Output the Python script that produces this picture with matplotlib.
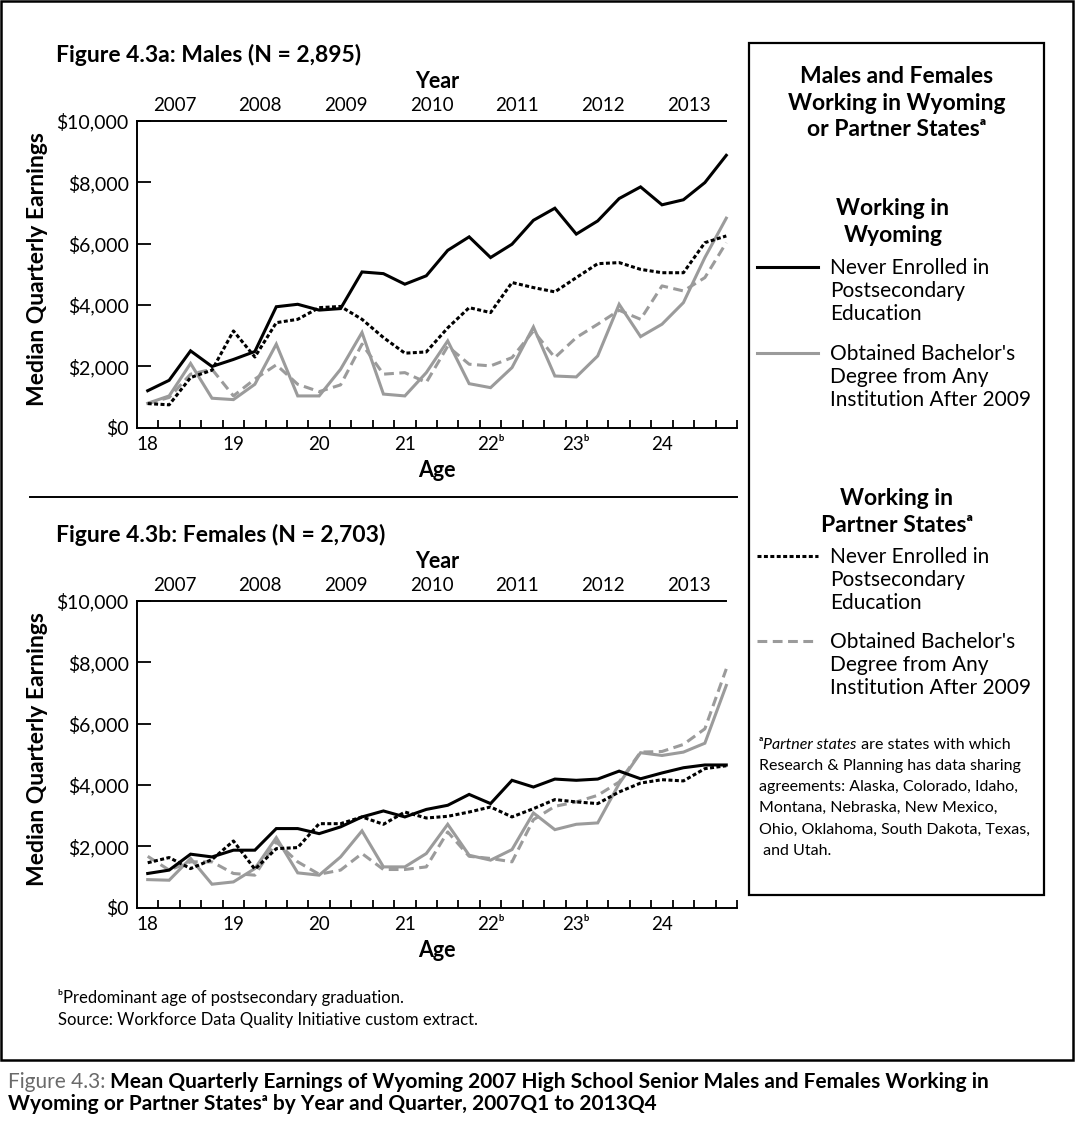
import matplotlib
matplotlib.use('Agg')
import matplotlib.pyplot as plt
from matplotlib.lines import Line2D
from matplotlib.patches import Rectangle
from matplotlib.text import Annotation

plt.rcParams['font.family'] = ['Lato', 'DejaVu Sans']

# data: median quarterly earnings, 2007Q1 .. 2013Q4 (28 quarters)
years = ['2007', '2008', '2009', '2010', '2011', '2012', '2013']
ages = ['18', '19', '20', '21', '22ᵇ', '23ᵇ', '24']
yticks = [0, 2000, 4000, 6000, 8000, 10000]
ytick_labels = ['\\$0', '\\$2,000', '\\$4,000', '\\$6,000', '\\$8,000', '\\$10,000']

male_wy_never = [1200, 1540, 2500, 1990, 2220, 2480, 3940, 4020, 3830, 3880, 5075, 5020, 4675, 4950,
                 5780, 6220, 5545, 5980, 6760, 7155, 6310, 6740, 7470, 7850, 7265, 7430, 7990, 8880]
male_wy_ba = [790, 1030, 2090, 955, 910, 1410, 2720, 1030, 1030, 1900, 3100, 1090, 1030, 1790,
              2825, 1430, 1300, 1955, 3280, 1680, 1650, 2335, 4020, 2965, 3370, 4075, 5545, 6830]
male_ps_never = [780, 740, 1630, 1870, 3150, 2300, 3420, 3530, 3910, 3950, 3530, 2935, 2425, 2465,
                 3250, 3910, 3750, 4730, 4565, 4425, 4890, 5345, 5380, 5160, 5050, 5050, 6030, 6250]
male_ps_ba = [780, 980, 1740, 1900, 1030, 1580, 2045, 1410, 1170, 1390, 2720, 1740, 1790, 1470,
              2650, 2065, 2010, 2280, 3150, 2280, 2935, 3370, 3825, 3530, 4620, 4455, 4890, 6030]

female_wy_never = [1110, 1220, 1740, 1650, 1870, 1870, 2575, 2575, 2410, 2630, 2955, 3150, 2955, 3200,
                   3335, 3690, 3390, 4150, 3930, 4190, 4150, 4190, 4450, 4200, 4390, 4560, 4650, 4650]
female_wy_ba = [910, 890, 1600, 760, 835, 1270, 2280, 1130, 1055, 1650, 2500, 1325, 1325, 1760,
                2715, 1705, 1545, 1890, 3085, 2540, 2715, 2760, 4040, 5050, 4960, 5070, 5360, 7245]
female_ps_never = [1460, 1630, 1270, 1565, 2170, 1250, 1920, 1955, 2735, 2735, 2955, 2715, 3115, 2920,
                   2975, 3115, 3280, 2955, 3225, 3520, 3445, 3390, 3770, 4060, 4170, 4130, 4530, 4625]
female_ps_ba = [1670, 1220, 1490, 1490, 1110, 1055, 2140, 1490, 1085, 1220, 1760, 1240, 1240, 1325,
                2465, 1670, 1600, 1490, 2865, 3300, 3445, 3660, 4095, 5070, 5090, 5320, 5830, 7785]

W, H = 1075, 1123
def fx(px):
    return px / W
def fy(py):
    return 1 - py / H

GRAY = '#9b9b9b'
styles = {
    'wy_never': dict(color='black', lw=2.2, ls='-'),
    'wy_ba': dict(color=GRAY, lw=2.2, ls='-'),
    'ps_never': dict(color='black', lw=2.2, ls=(0, (1.3, 0.8))),
    'ps_ba': dict(color=GRAY, lw=2.2, ls=(0, (3.2, 1.8))),
}
BOLD = 16.5

fig = plt.figure(figsize=(W / 100, H / 100), dpi=100)

def after(prev, s, **kw):
    # text placed right after another text artist
    a = Annotation(s, xy=(1, 0), xycoords=prev, ha='left', va='bottom', annotation_clip=False, **kw)
    fig.add_artist(a)
    return a

def panel(top_px, title, series):
    bot_px = top_px + 306.5
    ax = fig.add_axes([fx(137), fy(bot_px), fx(737) - fx(137), fy(top_px) - fy(bot_px)])
    x = [i + 0.5 for i in range(len(series['wy_never']))]
    for key in ['ps_ba', 'wy_ba', 'ps_never', 'wy_never']:
        ax.plot(x, series[key], solid_joinstyle='miter', **styles[key])
    ax.set_xlim(0, 28)
    ax.set_ylim(0, 10000)
    ax.set_yticks(yticks, labels=ytick_labels)
    ax.tick_params(axis='y', direction='in', length=10, width=1.3, labelsize=14, pad=6)
    ax.set_xticks(range(1, 29), labels=[''] * 28)
    ax.tick_params(axis='x', which='major', direction='in', length=6, width=1.3)
    ax.set_xticks([0.5 + 4 * k for k in range(len(ages))], labels=ages, minor=True)
    ax.tick_params(axis='x', which='minor', length=0, labelsize=13.5, pad=6)
    ax.spines['right'].set_visible(False)
    ax.spines['top'].set_bounds(0, 27.5)
    for s in ['left', 'bottom', 'top']:
        ax.spines[s].set_linewidth(1.4)
    tr = ax.get_xaxis_transform()
    for k, yr in enumerate(years):
        ax.text(1.75 + 4 * k, 1.05, yr, transform=tr, ha='center', va='center', fontsize=13.5)
    ax.text(14, 1.128, 'Year', transform=tr, ha='center', va='center', fontsize=15.5, fontweight='bold')
    ax.text(14, -0.14, 'Age', transform=tr, ha='center', va='center', fontsize=15.5, fontweight='bold')
    fig.text(fx(56), fy(top_px - 66), title, ha='left', va='center', fontsize=BOLD, fontweight='bold')
    fig.text(fx(38), fy(top_px + 148), 'Median Quarterly Earnings', rotation=90,
             ha='center', va='center', fontsize=BOLD, fontweight='bold')
    return ax

panel(121, 'Figure 4.3a: Males (N = 2,895)',
      dict(wy_never=male_wy_never, wy_ba=male_wy_ba, ps_never=male_ps_never, ps_ba=male_ps_ba))
panel(601, 'Figure 4.3b: Females (N = 2,703)',
      dict(wy_never=female_wy_never, wy_ba=female_wy_ba, ps_never=female_ps_never, ps_ba=female_ps_ba))

# frame, divider, legend box
fig.add_artist(Rectangle((fx(1), fy(1060)), fx(1073) - fx(1), fy(1) - fy(1060),
                         transform=fig.transFigure, fill=False, lw=1.8, color='black'))
fig.add_artist(Line2D([fx(30), fx(737)], [fy(497), fy(497)], transform=fig.transFigure,
                      color='black', lw=1.4))
fig.add_artist(Rectangle((fx(749), fy(895)), fx(1044) - fx(749), fy(43) - fy(895),
                         transform=fig.transFigure, fill=False, lw=1.6, color='black'))

# legend content
fig.text(fx(897), fy(103), 'Males and Females\nWorking in Wyoming\nor Partner Statesᵃ',
         ha='center', va='center', multialignment='center', fontsize=BOLD, fontweight='bold', linespacing=1.33)
fig.text(fx(893), fy(222), 'Working in\nWyoming', ha='center', va='center', multialignment='center',
         fontsize=BOLD, fontweight='bold', linespacing=1.37)
fig.text(fx(897), fy(512), 'Working in\nPartner Statesᵃ', ha='center', va='center',
         multialignment='center', fontsize=BOLD, fontweight='bold', linespacing=1.37)

entries = [
    ('wy_never', 267, 'Never Enrolled in\nPostsecondary\nEducation'),
    ('wy_ba', 353, "Obtained Bachelor's\nDegree from Any\nInstitution After 2009"),
    ('ps_never', 556, 'Never Enrolled in\nPostsecondary\nEducation'),
    ('ps_ba', 641, "Obtained Bachelor's\nDegree from Any\nInstitution After 2009"),
]
for key, ypx, label in entries:
    fig.add_artist(Line2D([fx(757), fx(818)], [fy(ypx), fy(ypx)], transform=fig.transFigure,
                          **styles[key]))
    fig.text(fx(830), fy(ypx + 24), label, ha='left', va='center', fontsize=15, linespacing=1.2)

# footnote a
fs_a = 11.5
t1 = fig.text(fx(759), fy(752), 'ᵃ', ha='left', va='bottom', fontsize=fs_a)
t2 = after(t1, 'Partner states', fontsize=fs_a, style='italic')
after(t2, ' are states with which', fontsize=fs_a)
fig.text(fx(759), fy(759), 'Research & Planning has data sharing\nagreements: Alaska, Colorado, Idaho,\n'
         'Montana, Nebraska, New Mexico,\nOhio, Oklahoma, South Dakota, Texas,\n and Utah.',
         ha='left', va='top', fontsize=fs_a, linespacing=1.65)

# footnote b and source
fig.text(fx(58), fy(998), 'ᵇPredominant age of postsecondary graduation.', ha='left', va='center', fontsize=12)
fig.text(fx(58), fy(1020), 'Source: Workforce Data Quality Initiative custom extract.', ha='left',
         va='center', fontsize=12)

# caption
c1 = fig.text(fx(8), fy(1092), 'Figure 4.3:', ha='left', va='bottom', fontsize=15, color='#6a6a6a')
after(c1, ' Mean Quarterly Earnings of Wyoming 2007 High School Senior Males and Females Working in',
      fontsize=15, fontweight='bold')
fig.text(fx(8), fy(1104), 'Wyoming or Partner Statesᵃ by Year and Quarter, 2007Q1 to 2013Q4',
         ha='left', va='center', fontsize=15, fontweight='bold')

fig.savefig('out.png', dpi=100)
